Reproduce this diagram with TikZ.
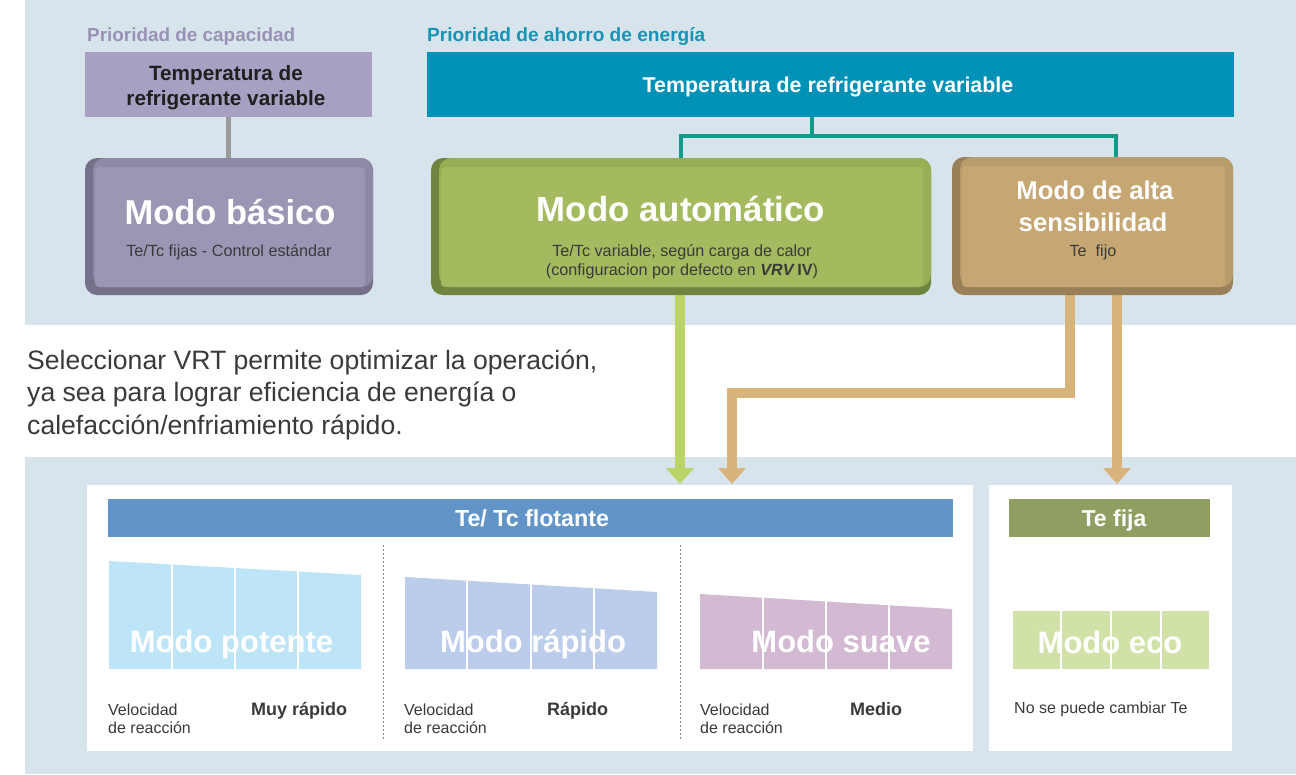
\documentclass[tikz,border=0pt]{standalone}
\usepackage{fontspec}
\setmainfont{Liberation Sans}
\usetikzlibrary{arrows.meta,calc}
\definecolor{panelbg}{HTML}{D8E4EC}
\definecolor{purplabel}{HTML}{9A92B6}
\definecolor{purpbox}{HTML}{A8A0C2}
\definecolor{teallabel}{HTML}{1693B5}
\definecolor{tealbox}{HTML}{0091B6}
\definecolor{tealline}{HTML}{0E9C8A}
\definecolor{greyline}{HTML}{9B9B9B}
\definecolor{basdark}{HTML}{76708A}
\definecolor{basmid}{HTML}{8F88A7}
\definecolor{basface}{HTML}{9D95B4}
\definecolor{autdark}{HTML}{6E843F}
\definecolor{autmid}{HTML}{97AE54}
\definecolor{autface}{HTML}{A3BB5E}
\definecolor{altdark}{HTML}{9A8059}
\definecolor{altmid}{HTML}{B89C6C}
\definecolor{altface}{HTML}{C6A673}
\definecolor{arrgreen}{HTML}{BAD46A}
\definecolor{arrtan}{HTML}{D8B47D}
\definecolor{txtdark}{HTML}{3A3A3A}
\definecolor{tcbar}{HTML}{6394C7}
\definecolor{fijabar}{HTML}{8F9F62}
\definecolor{potcol}{HTML}{BEE4F8}
\definecolor{rapcol}{HTML}{BBCDEA}
\definecolor{suacol}{HTML}{D4B9D3}
\definecolor{ecocol}{HTML}{D1E2A8}
\definecolor{sepcol}{HTML}{888888}
\newcommand\fsz[1]{\fontsize{#1}{#1}\selectfont}
\newcommand\threedbox[8]{%
  \node[minimum width=#4pt, minimum height=#5pt, inner sep=0pt, outer sep=0pt] (#1) at (#2,#3) {};
  \fill[#6, rounded corners=12pt] (#1.north west) rectangle (#1.south east);
  \fill[#7, rounded corners=12pt] ([xshift=8pt]#1.north west) rectangle ([yshift=8pt]#1.south east);
  \fill[#8, rounded corners=4pt] ([xshift=10pt,yshift=-9pt]#1.north west) rectangle ([xshift=-8pt,yshift=8pt]#1.south east);
}
\tikzset{
  flatbox/.style={inner sep=0pt, outer sep=0pt},
  garrow/.style={draw=arrgreen, line width=10pt, -{Triangle[width=27pt,length=16pt]}},
  tarrow/.style={draw=arrtan, line width=10pt, -{Triangle[width=27pt,length=16pt]}},
  tline/.style={draw=tealline, line width=4.5pt},
  gline/.style={draw=greyline, line width=4.5pt},
  sepline/.style={draw=sepcol, line width=0.8pt, dash pattern=on 2pt off 2pt},
  divline/.style={draw=white, line width=2pt},
  modetxt/.style={text=white, font=\bfseries\fsz{31}, anchor=base, inner sep=0pt},
  smalltxt/.style={text=txtdark, font=\fsz{16}, anchor=base west, inner sep=0pt},
  speedtxt/.style={text=txtdark, font=\bfseries\fsz{18}, anchor=base west, inner sep=0pt},
}
\begin{document}
\begin{tikzpicture}[x=1pt,y=-1pt]
\useasboundingbox (0,0) rectangle (1296,774);
% panels
\fill[panelbg] (25,0) rectangle (1296,325);
\fill[panelbg] (25,457) rectangle (1296,774);
% priority labels
\node[anchor=base west, inner sep=0pt, text=purplabel, font=\bfseries\fsz{18.9}] (plab1) at (87,41) {Prioridad de capacidad};
\node[anchor=base west, inner sep=0pt, text=teallabel, font=\bfseries\fsz{19.1}] (plab2) at (427,41) {Prioridad de ahorro de energía};
% top boxes
\node[flatbox, fill=purpbox, minimum width=287pt, minimum height=65pt] (purp) at (228.5,84.5) {};
\node[anchor=base, inner sep=0pt, font=\bfseries\fsz{20.7}, text=black!88] (purpT1) at (226,80) {Temperatura de};
\node[anchor=base, inner sep=0pt, font=\bfseries\fsz{20.7}, text=black!88] (purpT2) at (226,105) {refrigerante variable};
\node[flatbox, fill=tealbox, minimum width=807pt, minimum height=65pt] (teal) at (830.5,84.5) {};
\node[anchor=base, inner sep=0pt, font=\bfseries\fsz{21.4}, text=white] (tealT) at (828,92) {Temperatura de refrigerante variable};
% connectors in the top panel
\coordinate (tj) at (812,136);
\coordinate (altain) at (1116,158);
\draw[gline] (purp.south) -- (228.5,158);
\draw[tline] (tj |- teal.south) -- (tj);
\draw[tline, line join=miter] (681,158) |- (tj) -| (altain);
% arrows down
\coordinate (ga) at (680,484);
\coordinate (ta1) at (732,484);
\coordinate (tbend) at (1070,393);
\coordinate (ta2) at (1117,484);
\draw[garrow] (680,290) -- (ga);
\draw[tarrow, line join=miter] (1070,290) -- (tbend) -| (ta1);
\draw[tarrow] (1117,290) -- (ta2);
% 3D mode boxes
\threedbox{basico}{229}{226.5}{288}{137}{basdark}{basmid}{basface}
\threedbox{auto}{681}{226.5}{500}{137}{autdark}{autmid}{autface}
\threedbox{alta}{1092.5}{226}{281}{138}{altdark}{altmid}{altface}
\node[anchor=base, inner sep=0pt, text=white, font=\bfseries\fsz{34.5}] (basT) at (230,224) {Modo básico};
\node[anchor=base, inner sep=0pt, text=txtdark, font=\fsz{16.2}] (basS) at (229,256) {Te/Tc fijas - Control estándar};
\node[anchor=base, inner sep=0pt, text=white, font=\bfseries\fsz{34.8}] (autT) at (681,221) {Modo automático};
\node[anchor=base, inner sep=0pt, text=txtdark, font=\fsz{16.2}] (autS1) at (682,256) {Te/Tc variable, según carga de calor};
\node[anchor=base, inner sep=0pt, text=txtdark, font=\fsz{16.2}] (autS2) at (682,275) {(configuracion por defecto en \textbf{\textit{VRV}}\,\textbf{IV})};
\node[anchor=base, inner sep=0pt, text=white, font=\bfseries\fsz{25.7}] (altT1) at (1095,199) {Modo de alta};
\node[anchor=base, inner sep=0pt, text=white, font=\bfseries\fsz{25.7}] (altT2) at (1093,231) {sensibilidad};
\node[anchor=base, inner sep=0pt, text=txtdark, font=\fsz{16.2}] (altS) at (1093,256) {Te\ \ fijo};
% middle text
\node[anchor=base west, inner sep=0pt, text=txtdark, font=\fsz{26.6}] (mid1) at (27,369) {Seleccionar VRT permite optimizar la operación,};
\node[anchor=base west, inner sep=0pt, text=txtdark, font=\fsz{26.6}] (mid2) at (27,401.5) {ya sea para lograr eficiencia de energía o};
\node[anchor=base west, inner sep=0pt, text=txtdark, font=\fsz{26.6}] (mid3) at (27,434) {calefacción/enfriamiento rápido.};
% white boxes
\fill[white] (87,485) rectangle (973,751);
\fill[white] (989,485) rectangle (1232,751);
% bars
\node[flatbox, fill=tcbar, minimum width=845pt, minimum height=38pt] (tcb) at (530.5,518) {};
\node[anchor=base, inner sep=0pt, text=white, font=\bfseries\fsz{23.2}] (tcbT) at (532,526.5) {Te/ Tc flotante};
\node[flatbox, fill=fijabar, minimum width=201pt, minimum height=38pt] (fjb) at (1109.5,518) {};
\node[anchor=base, inner sep=0pt, text=white, font=\bfseries\fsz{23}] (fjbT) at (1114,526) {Te fija};
% separators
\draw[sepline] (383.5,545) -- (383.5,740);
\draw[sepline] (680,545) -- (680,740);
% mode shapes
\begin{scope}
\clip (109,561) -- (361,575) -- (361,669) -- (109,669) -- cycle;
\fill[potcol] (100,550) rectangle (370,680);
\foreach \x in {172,235,298} \draw[divline] (\x,550) -- (\x,680);
\end{scope}
\begin{scope}
\clip (405,577) -- (657,592) -- (657,669) -- (405,669) -- cycle;
\fill[rapcol] (400,560) rectangle (670,680);
\foreach \x in {467,531,594} \draw[divline] (\x,560) -- (\x,680);
\end{scope}
\begin{scope}
\clip (700,594) -- (952,609) -- (952,669) -- (700,669) -- cycle;
\fill[suacol] (690,580) rectangle (960,680);
\foreach \x in {763,826,889} \draw[divline] (\x,580) -- (\x,680);
\end{scope}
\begin{scope}
\clip (1013,611) rectangle (1209,669);
\fill[ecocol] (1013,611) rectangle (1209,669);
\foreach \x in {1061,1111,1161} \draw[divline] (\x,600) -- (\x,680);
\end{scope}
\node[modetxt] (potT) at (231.5,652) {Modo potente};
\node[modetxt] (rapT) at (533,652) {Modo rápido};
\node[modetxt] (suaT) at (841,652) {Modo suave};
\node[modetxt] (ecoT) at (1110,653) {Modo eco};
% labels under shapes
\node[smalltxt] (v1a) at (108,715) {Velocidad};
\node[smalltxt] (v1b) at (108,733) {de reacción};
\node[speedtxt] (s1) at (251,715) {Muy rápido};
\node[smalltxt] (v2a) at (404,715) {Velocidad};
\node[smalltxt] (v2b) at (404,733) {de reacción};
\node[speedtxt] (s2) at (547,715) {Rápido};
\node[smalltxt] (v3a) at (700,715) {Velocidad};
\node[smalltxt] (v3b) at (700,733) {de reacción};
\node[speedtxt] (s3) at (850,715) {Medio};
\node[smalltxt] (eco) at (1014,713) {No se puede cambiar Te};
\end{tikzpicture}
\end{document}
